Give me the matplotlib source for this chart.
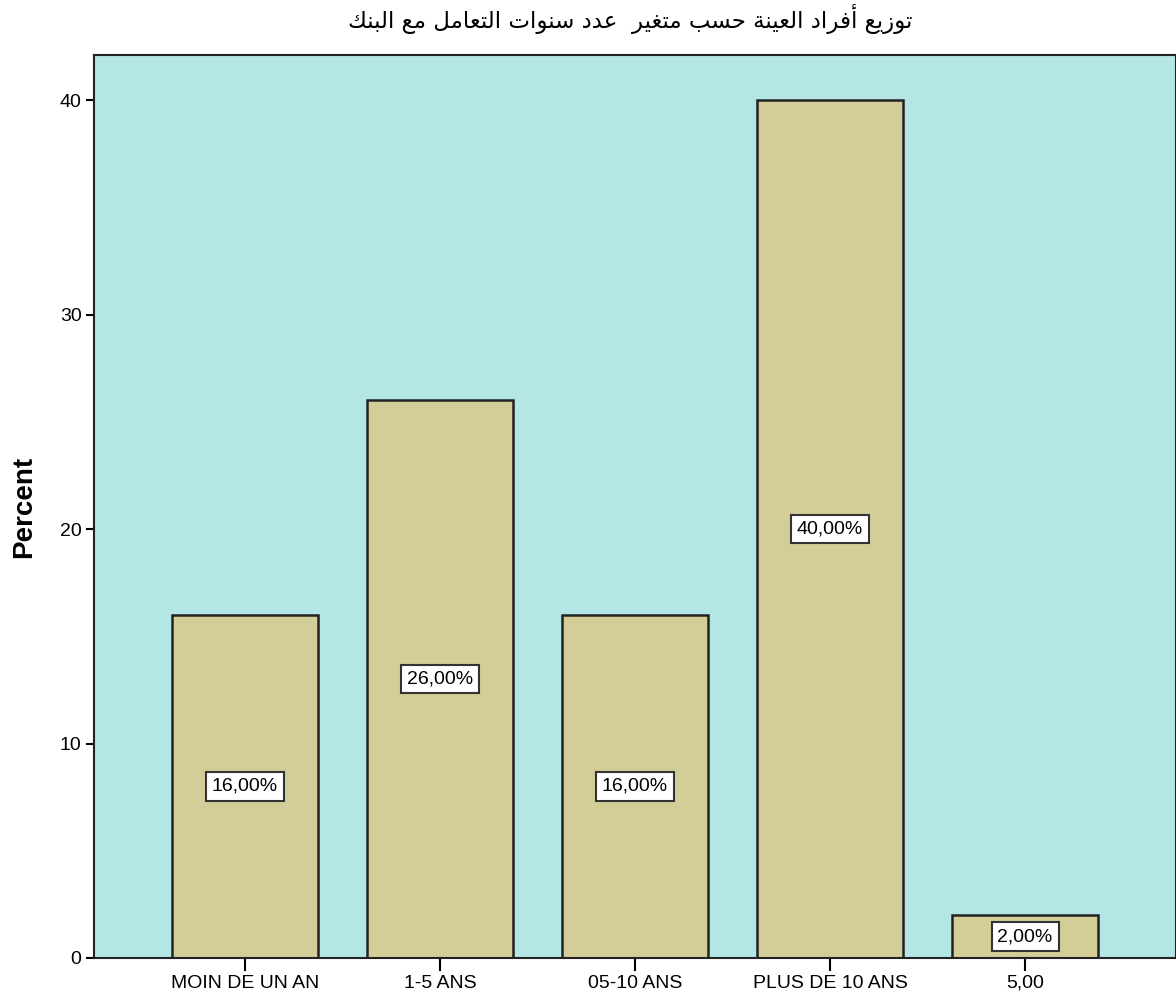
import matplotlib
matplotlib.use('Agg')
import matplotlib.pyplot as plt

# Data
categories = ['MOIN DE UN AN', '1-5 ANS', '05-10 ANS', 'PLUS DE 10 ANS', '5,00']
percent = [16.0, 26.0, 16.0, 40.0, 2.0]
bar_labels = ['16,00%', '26,00%', '16,00%', '40,00%', '2,00%']
yticks = [0, 10, 20, 30, 40]
title = 'توزيع أفراد العينة حسب متغير  عدد سنوات التعامل مع البنك'

# Arabic presentation forms: isolated, final, initial, medial
FORMS = {
    'ا': ('\uFE8D', '\uFE8E', None, None),
    'أ': ('\uFE83', '\uFE84', None, None),
    'ب': ('\uFE8F', '\uFE90', '\uFE91', '\uFE92'),
    'ة': ('\uFE93', '\uFE94', None, None),
    'ت': ('\uFE95', '\uFE96', '\uFE97', '\uFE98'),
    'ح': ('\uFEA1', '\uFEA2', '\uFEA3', '\uFEA4'),
    'د': ('\uFEA9', '\uFEAA', None, None),
    'ر': ('\uFEAD', '\uFEAE', None, None),
    'ز': ('\uFEAF', '\uFEB0', None, None),
    'س': ('\uFEB1', '\uFEB2', '\uFEB3', '\uFEB4'),
    'ع': ('\uFEC9', '\uFECA', '\uFECB', '\uFECC'),
    'غ': ('\uFECD', '\uFECE', '\uFECF', '\uFED0'),
    'ف': ('\uFED1', '\uFED2', '\uFED3', '\uFED4'),
    'ك': ('\uFED9', '\uFEDA', '\uFEDB', '\uFEDC'),
    'ل': ('\uFEDD', '\uFEDE', '\uFEDF', '\uFEE0'),
    'م': ('\uFEE1', '\uFEE2', '\uFEE3', '\uFEE4'),
    'ن': ('\uFEE5', '\uFEE6', '\uFEE7', '\uFEE8'),
    'و': ('\uFEED', '\uFEEE', None, None),
    'ي': ('\uFEF1', '\uFEF2', '\uFEF3', '\uFEF4'),
}


def shape(s):
    # minimal joining + right-to-left reordering, matplotlib has no text shaping
    out = []
    for i, ch in enumerate(s):
        if ch not in FORMS:
            out.append(ch)
            continue
        prev = s[i - 1] if i > 0 else ''
        nxt = s[i + 1] if i + 1 < len(s) else ''
        iso, fin, ini, med = FORMS[ch]
        join_prev = prev in FORMS and FORMS[prev][2] is not None
        join_next = nxt in FORMS and ini is not None
        if join_prev and join_next:
            out.append(med)
        elif join_prev:
            out.append(fin)
        elif join_next:
            out.append(ini)
        else:
            out.append(iso)
    return ''.join(reversed(out))


plt.rcParams['font.family'] = ['Liberation Sans', 'DejaVu Sans']

fig = plt.figure(figsize=(11.76, 10), dpi=100)
ax = fig.add_axes([94 / 1176, 0.042, 1082 / 1176, 0.903])
ax.set_facecolor('#B4E6E6')

x = list(range(len(categories)))
ax.bar(x, percent, width=0.75, color='#D3CE97', edgecolor='#222222', linewidth=1.8, zorder=2)

for xi, v, lab in zip(x, percent, bar_labels):
    ax.text(xi, v / 2, lab, ha='center', va='center', fontsize=14, zorder=3,
            bbox=dict(boxstyle='square,pad=0.3', facecolor='white', edgecolor='#333333', linewidth=1.5))

ax.set_xlim(-0.774, 4.774)
ax.set_ylim(0, 42.1)
ax.set_xticks(x)
ax.set_xticklabels(categories, fontsize=14)
ax.set_yticks(yticks)
ax.set_yticklabels([str(t) for t in yticks], fontsize=14)
ax.tick_params(axis='x', length=9, width=1.5, pad=3)
ax.tick_params(axis='y', length=6, width=1.5, pad=3)

for side in ax.spines.values():
    side.set_linewidth(1.5)
    side.set_color('#222222')

ax.set_ylabel('Percent', fontsize=20, fontweight='bold', labelpad=16)
fig.text(0.536, 0.981, shape(title), ha='center', va='center', fontsize=16.5,
         family=['DejaVu Sans'])

fig.savefig('out.png', dpi=100)
